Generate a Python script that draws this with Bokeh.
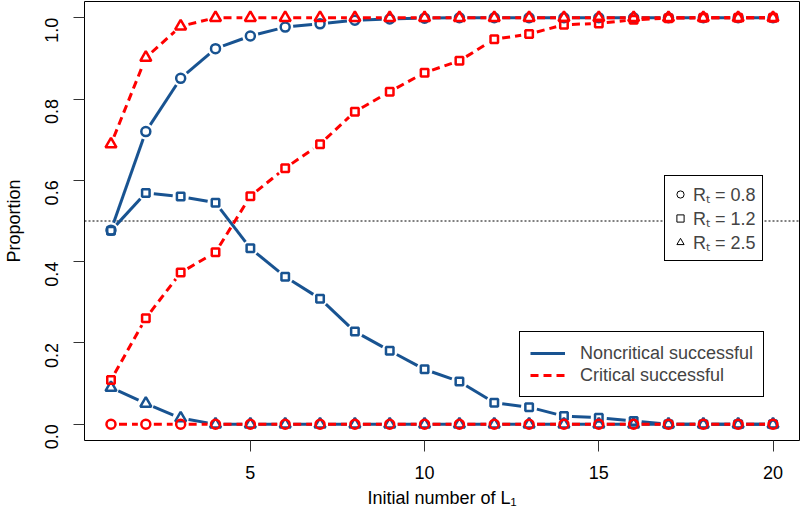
import math
from bokeh.plotting import figure
from bokeh.models import (Range1d, FixedTicker, PrintfTickFormatter, Span,
                          Legend, LegendItem)
from bokeh.embed import file_html
from bokeh.resources import INLINE

# ---- data ----
x_vals = list(range(1, 21))

noncrit_r08 = [0.477, 0.720, 0.851, 0.924, 0.955, 0.977, 0.985, 0.994, 0.997, 0.999,
               1.0, 1.0, 1.0, 1.0, 1.0, 1.0, 1.0, 1.0, 1.0, 1.0]
crit_r08 = [0.0] * 20

noncrit_r12 = [0.476, 0.569, 0.560, 0.545, 0.433, 0.363, 0.309, 0.228, 0.181, 0.135,
               0.105, 0.053, 0.042, 0.020, 0.016, 0.008, 0.0, 0.0, 0.0, 0.0]
crit_r12 = [0.109, 0.261, 0.373, 0.423, 0.561, 0.630, 0.689, 0.769, 0.818, 0.865,
            0.894, 0.947, 0.960, 0.983, 0.986, 0.995, 0.999, 1.0, 1.0, 1.0]

noncrit_r25 = [0.090, 0.051, 0.015, 0.0, 0.0, 0.0, 0.0, 0.0, 0.0, 0.0,
               0.0, 0.0, 0.0, 0.0, 0.0, 0.0, 0.0, 0.0, 0.0, 0.0]
crit_r25 = [0.689, 0.902, 0.979, 1.0, 1.0, 1.0, 1.0, 1.0, 1.0, 1.0,
            1.0, 1.0, 1.0, 1.0, 1.0, 1.0, 1.0, 1.0, 1.0, 1.0]

x_ticks = [5, 10, 15, 20]
y_ticks = [0.0, 0.2, 0.4, 0.6, 0.8, 1.0]
rt_labels = ["R\u209c = 0.8", "R\u209c = 1.2", "R\u209c = 2.5"]
line_labels = ["Noncritical successful", "Critical successful"]

# ---- styles ----
BLUE = "#185391"
RED = "#FF0000"
FONT = "Liberation Sans"
FS = "18px"

W, H = 800, 521
BL, BR, BT, BB = 84, 1, 1, 81
X0, X1 = 0.24, 20.76
Y0, Y1 = -0.04, 1.04

p = figure(width=W, height=H, output_backend="svg", toolbar_location=None,
           x_range=Range1d(X0, X1), y_range=Range1d(Y0, Y1),
           min_border_left=BL, min_border_right=BR, min_border_top=BT,
           min_border_bottom=BB)

p.grid.visible = False
p.outline_line_color = "black"
p.outline_line_width = 1
p.outline_line_alpha = 1

for ax in (p.xaxis[0], p.yaxis[0]):
    ax.axis_line_color = None
    ax.major_tick_out = 11
    ax.major_tick_in = 0
    ax.minor_tick_line_color = None
    ax.major_tick_line_color = "#333333"
    ax.major_label_text_font = FONT
    ax.major_label_text_font_size = FS
    ax.major_label_text_color = "black"
    ax.axis_label_text_font = FONT
    ax.axis_label_text_font_size = FS
    ax.axis_label_text_font_style = "normal"
    ax.axis_label_text_color = "black"

p.xaxis.ticker = FixedTicker(ticks=x_ticks)
p.yaxis.ticker = FixedTicker(ticks=y_ticks)
p.yaxis.formatter = PrintfTickFormatter(format="%.1f")
p.yaxis.major_label_orientation = math.pi / 2
p.xaxis.major_label_standoff = 14
p.yaxis.major_label_standoff = 22
p.xaxis.axis_label = "Initial number of L\u2081"
p.yaxis.axis_label = "Proportion"
p.xaxis.axis_label_standoff = 6
p.yaxis.axis_label_standoff = 12

span = Span(location=0.5, dimension="width", line_color="black",
            line_width=1, line_dash="2 2", level="underlay")
p.add_layout(span)

# pixel scale of the frame, used to leave small gaps between line and points
SX = (W - BL - BR) / (X1 - X0)
SY = (H - BT - BB) / (Y1 - Y0)
GAP = 8.0


def gapped(xs, ys):
    x0s, y0s, x1s, y1s = [], [], [], []
    for i in range(len(xs) - 1):
        dx, dy = xs[i + 1] - xs[i], ys[i + 1] - ys[i]
        length = math.hypot(dx * SX, dy * SY)
        if length <= 2 * GAP:
            continue
        f = GAP / length
        x0s.append(xs[i] + dx * f)
        y0s.append(ys[i] + dy * f)
        x1s.append(xs[i + 1] - dx * f)
        y1s.append(ys[i + 1] - dy * f)
    return x0s, y0s, x1s, y1s


series = [
    (noncrit_r08, BLUE, "solid", "circle", 9),
    (noncrit_r12, BLUE, "solid", "square", 7.5),
    (noncrit_r25, BLUE, "solid", "triangle", 11),
    (crit_r08, RED, "8 5", "circle", 9),
    (crit_r12, RED, "8 5", "square", 7.5),
    (crit_r25, RED, "8 5", "triangle", 11),
]
for ys, col, dash, mk, sz in series:
    a, b, c, d = gapped(x_vals, ys)
    p.segment(a, b, c, d, line_color=col, line_width=3, line_dash=dash)
    p.scatter(x_vals, ys, marker=mk, size=sz, line_color=col, line_width=2.5,
              fill_color=None)

# legend 1: black hollow symbols (hidden renderers used only as legend keys)
key_c = p.scatter(x_vals, crit_r08, marker="circle", line_color="black",
                  line_width=1, fill_color=None, visible=False)
key_s = p.scatter(x_vals, crit_r08, marker="square", line_color="black",
                  line_width=1, fill_color=None, visible=False)
key_t = p.scatter(x_vals, crit_r08, marker="triangle", line_color="black",
                  line_width=1, fill_color=None, visible=False)
leg1 = Legend(items=[LegendItem(label=rt_labels[0], renderers=[key_c], index=0),
                     LegendItem(label=rt_labels[1], renderers=[key_s], index=0),
                     LegendItem(label=rt_labels[2], renderers=[key_t], index=0)],
              location=(580, 179), margin=0, padding=6, spacing=0,
              glyph_width=18, glyph_height=22, label_standoff=4,
              label_height=18, label_text_font=FONT,
              label_text_font_size=FS, border_line_color="black",
              border_line_width=1, border_line_alpha=1,
              background_fill_color="white", background_fill_alpha=1,
              inactive_fill_alpha=0)
p.add_layout(leg1, "center")

key_l1 = p.line(x_vals, crit_r08, line_color=BLUE, line_width=3, visible=False)
key_l2 = p.line(x_vals, crit_r08, line_color=RED, line_width=3, line_dash="8 5",
                visible=False)
leg2 = Legend(items=[LegendItem(label=line_labels[0], renderers=[key_l1]),
                     LegendItem(label=line_labels[1], renderers=[key_l2])],
              location=(435, 43), margin=0, padding=10, spacing=0,
              glyph_width=35, glyph_height=22, label_standoff=15,
              label_height=20, label_text_font=FONT,
              label_text_font_size=FS, border_line_color="black",
              border_line_width=1, border_line_alpha=1,
              background_fill_color="white", background_fill_alpha=1,
              inactive_fill_alpha=0)
p.add_layout(leg2, "center")

open("out.html", "w").write(file_html(p, INLINE))
